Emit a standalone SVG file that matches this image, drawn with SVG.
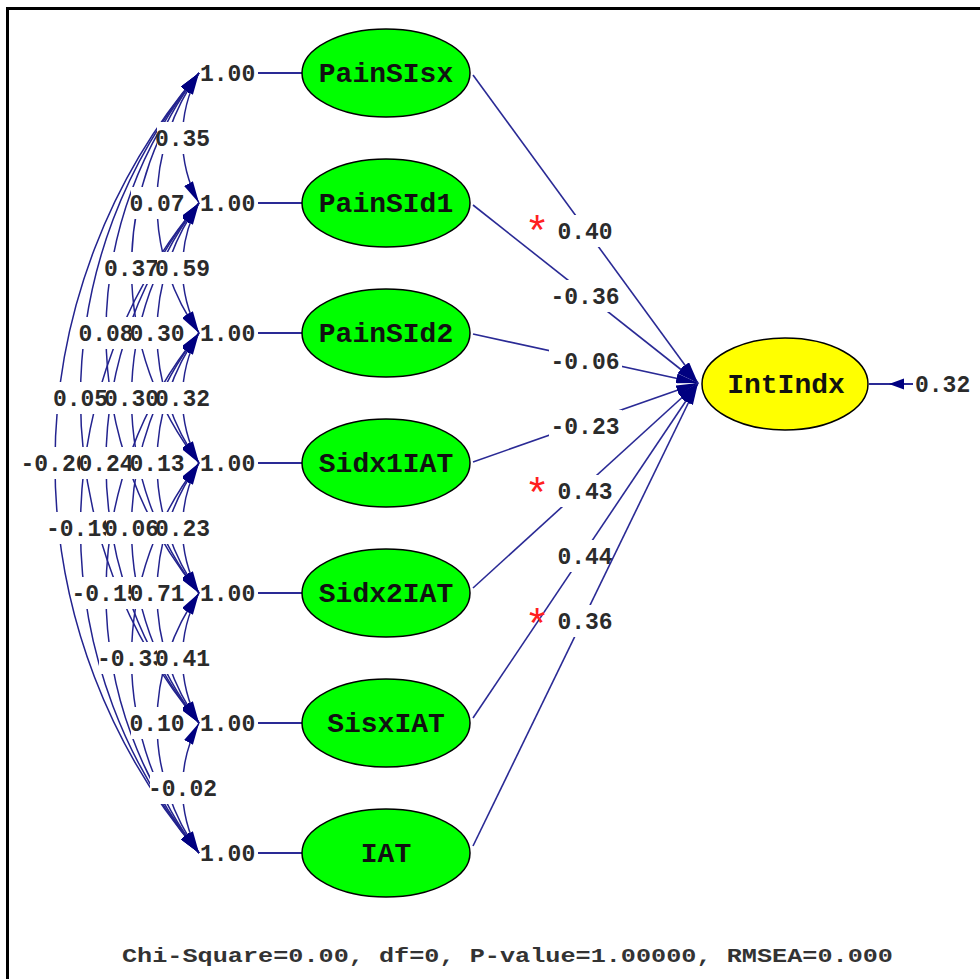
<svg xmlns="http://www.w3.org/2000/svg" width="980" height="979" viewBox="0 0 980 979">
  <defs>
    <marker id="ah" viewBox="0 0 22 10" refX="22" refY="5" markerWidth="22" markerHeight="10" markerUnits="userSpaceOnUse" orient="auto-start-reverse">
      <path d="M0,0 L22,5 L0,10 z" fill="#000080"/>
    </marker>
    <style>
      .frame { stroke: #000; stroke-width: 3; fill: none; }
      .cov { fill: none; stroke: #23238f; stroke-width: 1.5; marker-start: url(#ah); marker-end: url(#ah); }
      .path { fill: none; stroke: #2a2a95; stroke-width: 1.6; marker-end: url(#ah); }
      .stub { stroke: #2a2a95; stroke-width: 2; }
      .bg { fill: #fff; }
      .num { font-family: "Liberation Mono", "DejaVu Sans Mono", monospace; font-size: 23px; font-weight: bold; fill: #2b2b2b; }
      .mid { text-anchor: middle; }
      .obs ellipse { fill: #00ff00; stroke: #000; stroke-width: 1.5; }
      .lat ellipse { fill: #ffff00; stroke: #000; stroke-width: 1.5; }
      .name { font-family: "Liberation Mono", "DejaVu Sans Mono", monospace; font-size: 28px; font-weight: bold; fill: #111; text-anchor: middle; }
      .star { font-family: "Liberation Mono", "DejaVu Sans Mono", monospace; font-size: 42px; fill: #ff2020; text-anchor: middle; }
      .stats { font-family: "Liberation Mono", "DejaVu Sans Mono", monospace; font-size: 21px; font-weight: bold; fill: #333; }
    </style>
  </defs>

  <rect x="0" y="0" width="980" height="979" fill="#fff"/>
  <path class="frame" d="M7.5,979 V8.5 H980"/>

  <!-- covariance arcs between the observed variables -->
  <g id="covariances">
    <path class="cov" d="M199,73 A136.3,136.3 0 0 0 199,203"/>
    <path class="cov" d="M199,73 A222.2,222.2 0 0 0 199,333"/>
    <path class="cov" d="M199,73 A315.4,315.4 0 0 0 199,463"/>
    <path class="cov" d="M199,73 A409.9,409.9 0 0 0 199,593"/>
    <path class="cov" d="M199,73 A504.9,504.9 0 0 0 199,723"/>
    <path class="cov" d="M199,73 A600.1,600.1 0 0 0 199,853"/>
    <path class="cov" d="M199,203 A136.3,136.3 0 0 0 199,333"/>
    <path class="cov" d="M199,203 A222.2,222.2 0 0 0 199,463"/>
    <path class="cov" d="M199,203 A315.4,315.4 0 0 0 199,593"/>
    <path class="cov" d="M199,203 A409.9,409.9 0 0 0 199,723"/>
    <path class="cov" d="M199,203 A504.9,504.9 0 0 0 199,853"/>
    <path class="cov" d="M199,333 A136.3,136.3 0 0 0 199,463"/>
    <path class="cov" d="M199,333 A222.2,222.2 0 0 0 199,593"/>
    <path class="cov" d="M199,333 A315.4,315.4 0 0 0 199,723"/>
    <path class="cov" d="M199,333 A409.9,409.9 0 0 0 199,853"/>
    <path class="cov" d="M199,463 A136.3,136.3 0 0 0 199,593"/>
    <path class="cov" d="M199,463 A222.2,222.2 0 0 0 199,723"/>
    <path class="cov" d="M199,463 A315.4,315.4 0 0 0 199,853"/>
    <path class="cov" d="M199,593 A136.3,136.3 0 0 0 199,723"/>
    <path class="cov" d="M199,593 A222.2,222.2 0 0 0 199,853"/>
    <path class="cov" d="M199,723 A136.3,136.3 0 0 0 199,853"/>

    <!-- value labels on opaque boxes, widest arcs first so inner labels sit on top -->
    <g class="num mid">
      <rect class="bg" x="23" y="447" width="64" height="32"/><text x="55" y="471">-0.20</text>
      <rect class="bg" x="55" y="382" width="51" height="32"/><text x="80.5" y="406">0.05</text>
      <rect class="bg" x="48" y="512" width="65" height="32"/><text x="80.5" y="536">-0.19</text>
      <rect class="bg" x="80" y="317" width="52" height="32"/><text x="106" y="341">0.08</text>
      <rect class="bg" x="80" y="447" width="52" height="32"/><text x="106" y="471">0.24</text>
      <rect class="bg" x="74" y="577" width="64" height="32"/><text x="106" y="601">-0.15</text>
      <rect class="bg" x="106" y="252" width="51" height="32"/><text x="131.5" y="276">0.37</text>
      <rect class="bg" x="106" y="382" width="51" height="32"/><text x="131.5" y="406">0.30</text>
      <rect class="bg" x="106" y="512" width="51" height="32"/><text x="131.5" y="536">0.06</text>
      <rect class="bg" x="99" y="642" width="65" height="32"/><text x="131.5" y="666">-0.33</text>
      <rect class="bg" x="131" y="187" width="52" height="32"/><text x="157" y="211">0.07</text>
      <rect class="bg" x="131" y="317" width="52" height="32"/><text x="157" y="341">0.30</text>
      <rect class="bg" x="131" y="447" width="52" height="32"/><text x="157" y="471">0.13</text>
      <rect class="bg" x="131" y="577" width="52" height="32"/><text x="157" y="601">0.71</text>
      <rect class="bg" x="131" y="707" width="52" height="32"/><text x="157" y="731">0.10</text>
      <rect class="bg" x="157" y="122" width="51" height="32"/><text x="182.5" y="146">0.35</text>
      <rect class="bg" x="157" y="252" width="51" height="32"/><text x="182.5" y="276">0.59</text>
      <rect class="bg" x="157" y="382" width="51" height="32"/><text x="182.5" y="406">0.32</text>
      <rect class="bg" x="157" y="512" width="51" height="32"/><text x="182.5" y="536">0.23</text>
      <rect class="bg" x="157" y="642" width="51" height="32"/><text x="182.5" y="666">0.41</text>
      <rect class="bg" x="150" y="772" width="65" height="32"/><text x="182.5" y="796">-0.02</text>
    </g>
  </g>

  <!-- variance labels and stubs into the observed variables -->
  <g id="variances">
    <g class="stub">
      <line x1="258" y1="73" x2="303" y2="73"/>
      <line x1="258" y1="203" x2="303" y2="203"/>
      <line x1="258" y1="333" x2="303" y2="333"/>
      <line x1="258" y1="463" x2="303" y2="463"/>
      <line x1="258" y1="593" x2="303" y2="593"/>
      <line x1="258" y1="723" x2="303" y2="723"/>
      <line x1="258" y1="853" x2="303" y2="853"/>
    </g>
    <g class="num">
      <text x="200" y="81">1.00</text>
      <text x="200" y="211">1.00</text>
      <text x="200" y="341">1.00</text>
      <text x="200" y="471">1.00</text>
      <text x="200" y="601">1.00</text>
      <text x="200" y="731">1.00</text>
      <text x="200" y="861">1.00</text>
    </g>
  </g>

  <!-- regression paths into IntIndx -->
  <g id="paths">
    <path class="path" d="M473,75 L698,383"/>
    <rect class="bg" x="556" y="215" width="58" height="32"/>
    <text class="num mid" x="585" y="239">0.40</text>
    <text class="star" x="537" y="246">*</text>

    <path class="path" d="M473,205 L698,383"/>
    <rect class="bg" x="549" y="280" width="73" height="32"/>
    <text class="num mid" x="585" y="304">-0.36</text>

    <path class="path" d="M473,334 L698,383"/>
    <rect class="bg" x="549" y="345" width="73" height="32"/>
    <text class="num mid" x="585" y="369">-0.06</text>

    <path class="path" d="M473,462 L698,383"/>
    <rect class="bg" x="549" y="410" width="73" height="32"/>
    <text class="num mid" x="585" y="434">-0.23</text>

    <path class="path" d="M473,588 L698,383"/>
    <rect class="bg" x="556" y="475" width="58" height="32"/>
    <text class="num mid" x="585" y="499">0.43</text>
    <text class="star" x="537" y="508">*</text>

    <path class="path" d="M473,718 L698,383"/>
    <rect class="bg" x="556" y="540" width="58" height="32"/>
    <text class="num mid" x="585" y="564">0.44</text>

    <path class="path" d="M473,846 L698,383"/>
    <rect class="bg" x="556" y="605" width="58" height="32"/>
    <text class="num mid" x="585" y="629">0.36</text>
    <text class="star" x="537" y="639">*</text>

    <!-- error term of IntIndx -->
    <line class="stub" x1="869" y1="384" x2="913" y2="384"/>
    <path d="M889,384 L904,378.5 L904,389.5 z" fill="#000080"/>
    <text class="num" x="915" y="392">0.32</text>
  </g>

  <g id="PainSIsx" class="obs">
    <ellipse cx="386" cy="73" rx="84" ry="44"/>
    <text class="name" x="386" y="82">PainSIsx</text>
  </g>
  <g id="PainSId1" class="obs">
    <ellipse cx="386" cy="203" rx="84" ry="44"/>
    <text class="name" x="386" y="212">PainSId1</text>
  </g>
  <g id="PainSId2" class="obs">
    <ellipse cx="386" cy="333" rx="84" ry="44"/>
    <text class="name" x="386" y="342">PainSId2</text>
  </g>
  <g id="Sidx1IAT" class="obs">
    <ellipse cx="386" cy="463" rx="84" ry="44"/>
    <text class="name" x="386" y="472">Sidx1IAT</text>
  </g>
  <g id="Sidx2IAT" class="obs">
    <ellipse cx="386" cy="593" rx="84" ry="44"/>
    <text class="name" x="386" y="602">Sidx2IAT</text>
  </g>
  <g id="SisxIAT" class="obs">
    <ellipse cx="386" cy="723" rx="84" ry="44"/>
    <text class="name" x="386" y="732">SisxIAT</text>
  </g>
  <g id="IAT" class="obs">
    <ellipse cx="386" cy="853" rx="84" ry="44"/>
    <text class="name" x="386" y="862">IAT</text>
  </g>
  <g id="IntIndx" class="lat">
    <ellipse cx="785" cy="384" rx="83" ry="46"/>
    <text class="name" x="786" y="393">IntIndx</text>
  </g>

  <text class="stats" x="122" y="962" textLength="771" lengthAdjust="spacingAndGlyphs">Chi-Square=0.00, df=0, P-value=1.00000, RMSEA=0.000</text>
</svg>
